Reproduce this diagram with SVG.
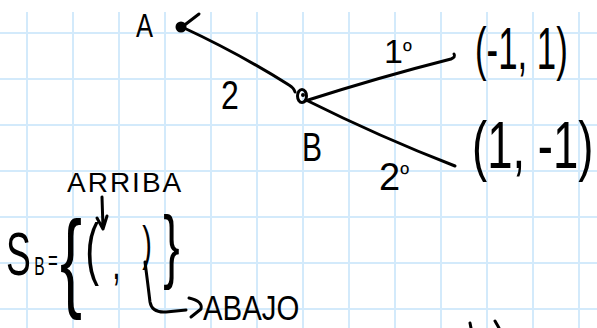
<svg xmlns="http://www.w3.org/2000/svg" width="597" height="328" viewBox="0 0 597 328">
<style>
.g{stroke:#d3eafb;stroke-width:2;fill:none}
.ink{stroke:#000;stroke-width:3;fill:none;stroke-linecap:round;stroke-linejoin:round}
.t{font-family:"Liberation Sans",Arial,sans-serif;fill:#000}
</style>
<rect width="597" height="328" fill="#fff"/>
<g id="grid" class="g">
<path d="M27 12V328M73 12V328M119 12V328M165 12V328M211 12V328M257 12V328M303 12V328M349 12V328M395 12V328M441 12V328M487 12V328M533 12V328M579 12V328"/>
<path d="M0 33H597M0 79H597M0 125H597M0 171H597M0 217H597M0 263H597M0 309H597"/>
</g>
<g id="connectors" class="ink">
<path d="M182 27 Q240 54 289 85 Q294 88 295 92"/>
<path d="M305 101 Q380 77 451 59 Q456 57 454 54"/>
<path d="M306 100 Q380 137 455 166"/>
</g>
<g id="nodeA">
<circle cx="181" cy="27" r="4.5" fill="#000" stroke="#000" stroke-width="2"/>
<path class="ink" d="M182 27 L199 14"/>
<text class="t" transform="translate(136 37) scale(0.75 1)" font-size="34">A</text>
</g>
<g id="nodeB">
<ellipse cx="302" cy="96" rx="4.5" ry="6.5" class="ink"/>
<circle cx="303" cy="95" r="2" fill="#000"/>
<text class="t" transform="translate(302 161) scale(0.75 1)" font-size="40">B</text>
</g>
<g id="edge-labels">
<text class="t" transform="translate(221 109) scale(0.8 1)" font-size="40">2</text>
<text class="t" x="384" y="63" font-size="34">1<tspan font-size="24" dy="-4">º</tspan></text>
<text class="t" x="379" y="190" font-size="38">2<tspan font-size="24" dy="-8">º</tspan></text>
</g>
<g id="node-p1">
<text class="t" transform="translate(475 69) scale(0.58 1)" font-size="60">(-1, 1)</text>
</g>
<g id="node-p2">
<text class="t" transform="translate(472 168) scale(0.69 1)" font-size="66">(1, -1)</text>
</g>
<g id="set">
<text class="t" x="67" y="192" font-size="28" letter-spacing="2">ARRIBA</text>
<path class="ink" d="M102 197 L103 228 M97 218 L103 229 L107 216"/>
<text class="t" transform="scale(0.6 1)"><tspan x="10" y="275" font-size="62">S</tspan><tspan x="57" y="275" font-size="26">B</tspan><tspan x="80" y="270" font-size="28">=</tspan><tspan x="100" y="297" font-size="110">{</tspan><tspan x="142" y="272" font-size="69">(</tspan><tspan x="187" y="279" font-size="50">,</tspan><tspan x="237" y="260" font-size="48">)</tspan><tspan x="272" y="273" font-size="82">}</tspan></text>
<path class="ink" d="M145 262 Q148 285 150 302 Q152 313 166 312 L186 310 M189 298 Q203 301 201 309 L191 317"/>
<text class="t" transform="translate(203 320) scale(0.84 1)" font-size="35">ABAJO</text>
</g>
<g id="marks" class="ink" stroke-width="2">
<path d="M470 323 L471 328 M495 321 L499 328"/>
</g>
</svg>
